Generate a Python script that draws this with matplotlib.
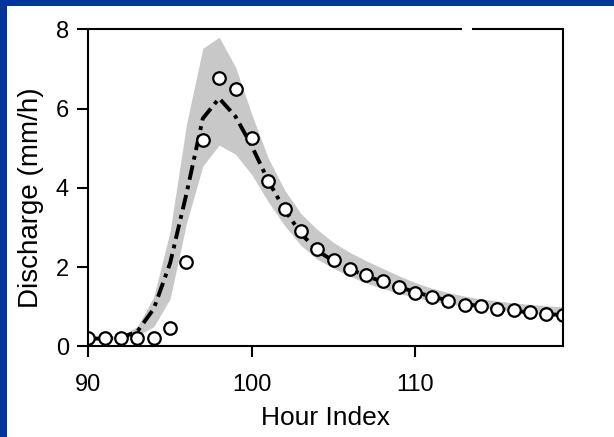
import numpy as np
import matplotlib.pyplot as plt
from matplotlib.patches import Rectangle

plt.rcParams['font.family'] = ['Liberation Sans', 'DejaVu Sans']

hours = np.arange(90, 120)
observed = [0.21, 0.21, 0.21, 0.21, 0.22, 0.46, 2.14, 5.21, 6.76, 6.49,
            5.25, 4.18, 3.48, 2.91, 2.46, 2.18, 1.96, 1.81, 1.66, 1.51,
            1.36, 1.26, 1.15, 1.05, 1.01, 0.95, 0.91, 0.86, 0.83, 0.80]
median = [0.20, 0.20, 0.22, 0.38, 0.95, 2.10, 3.85, 5.75, 6.26, 5.80,
          5.05, 4.18, 3.45, 2.85, 2.42, 2.15, 1.95, 1.78, 1.63, 1.50,
          1.37, 1.26, 1.16, 1.08, 1.01, 0.95, 0.90, 0.86, 0.82, 0.79]
upper = [0.24, 0.25, 0.27, 0.50, 1.25, 2.90, 5.60, 7.52, 7.80, 7.05,
         5.85, 4.75, 3.95, 3.35, 2.95, 2.62, 2.37, 2.16, 1.97, 1.78,
         1.61, 1.47, 1.36, 1.27, 1.20, 1.15, 1.10, 1.06, 1.03, 1.00]
lower = [0.17, 0.17, 0.20, 0.27, 0.50, 1.20, 3.10, 4.55, 5.08, 4.85,
         4.33, 3.65, 3.05, 2.55, 2.20, 1.97, 1.77, 1.60, 1.46, 1.34,
         1.23, 1.15, 1.08, 1.02, 0.97, 0.93, 0.88, 0.84, 0.80, 0.76]

fig = plt.figure(figsize=(6.14, 4.37), dpi=100)
ax = fig.add_axes([0.1438, 0.2071, 0.7726, 0.7259])

ax.fill_between(hours, lower, upper, color='#c8c8c8', linewidth=0)
ax.plot(hours, median, color='black', linewidth=2.8,
        dashes=(3.8, 1.5, 1.0, 1.5))
ax.plot(hours, observed, 'o', markersize=9, markerfacecolor='white',
        markeredgecolor='black', markeredgewidth=1.6)

ax.set_xlim(90, 119)
ax.set_ylim(0, 8)
ax.set_xticks([90, 100, 110])
ax.set_yticks([0, 2, 4, 6, 8])
ax.tick_params(direction='out', length=8, width=1.5, labelsize=17)
ax.tick_params(axis='x', pad=12)
ax.tick_params(axis='y', pad=6)
for s in ['left', 'bottom', 'right']:
    ax.spines[s].set_linewidth(1.5)
ax.spines['top'].set_visible(False)
# top frame line has a small break in the original
ax.plot([0, 0.788], [1, 1], transform=ax.transAxes, color='black',
        linewidth=1.5, clip_on=False, solid_capstyle='butt')
ax.plot([0.809, 1], [1, 1], transform=ax.transAxes, color='black',
        linewidth=1.5, clip_on=False, solid_capstyle='butt')

ax.set_xlabel('Hour Index', fontsize=19, labelpad=7)
ax.set_ylabel('Discharge (mm/h)', fontsize=20, labelpad=8, y=0.47)

blue = '#02349a'
fig.patches.append(Rectangle((0, 0), 7 / 614, 1, transform=fig.transFigure,
                             facecolor=blue, edgecolor='none'))
fig.patches.append(Rectangle((0, 1 - 6 / 437), 1, 6 / 437,
                             transform=fig.transFigure,
                             facecolor=blue, edgecolor='none'))

fig.savefig('out.png', dpi=100)
